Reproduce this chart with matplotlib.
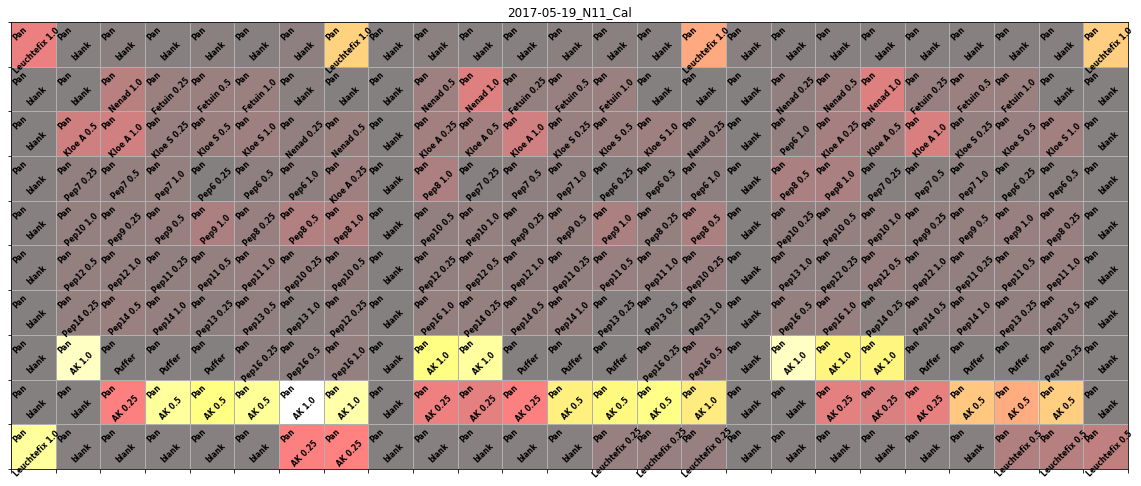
import numpy as np
import matplotlib
matplotlib.use("Agg")
import matplotlib.pyplot as plt

title = "2017-05-19_N11_Cal"

# plate layout: what was pipetted in each well (Pan + sample)
samples = [
    ["Leuchtefix 1.0", "blank", "blank", "blank", "blank", "blank", "blank", "Leuchtefix 1.0", "blank", "blank",
     "blank", "blank", "blank", "blank", "blank", "Leuchtefix 1.0", "blank", "blank", "blank", "blank",
     "blank", "blank", "blank", "blank", "Leuchtefix 1.0"],
    ["blank", "blank", "Nenad 1.0", "Fetuin 0.25", "Fetuin 0.5", "Fetuin 1.0", "blank", "blank", "blank", "Nenad 0.5",
     "Nenad 1.0", "Fetuin 0.25", "Fetuin 0.5", "Fetuin 1.0", "blank", "blank", "blank", "Nenad 0.25", "Nenad 0.5", "Nenad 1.0",
     "Fetuin 0.25", "Fetuin 0.5", "Fetuin 1.0", "blank", "blank"],
    ["blank", "Kloe A 0.5", "Kloe A 1.0", "Kloe S 0.25", "Kloe S 0.5", "Kloe S 1.0", "Nenad 0.25", "Nenad 0.5", "blank", "Kloe A 0.25",
     "Kloe A 0.5", "Kloe A 1.0", "Kloe S 0.25", "Kloe S 0.5", "Kloe S 1.0", "Nenad 0.25", "blank", "Pep6 1.0", "Kloe A 0.25", "Kloe A 0.5",
     "Kloe A 1.0", "Kloe S 0.25", "Kloe S 0.5", "Kloe S 1.0", "blank"],
    ["blank", "Pep7 0.25", "Pep7 0.5", "Pep7 1.0", "Pep6 0.25", "Pep6 0.5", "Pep6 1.0", "Kloe A 0.25", "blank", "Pep8 1.0",
     "Pep7 0.25", "Pep7 0.5", "Pep7 1.0", "Pep6 0.25", "Pep6 0.5", "Pep6 1.0", "blank", "Pep8 0.5", "Pep8 1.0", "Pep7 0.25",
     "Pep7 0.5", "Pep7 1.0", "Pep6 0.25", "Pep6 0.5", "blank"],
    ["blank", "Pep10 1.0", "Pep9 0.25", "Pep9 0.5", "Pep9 1.0", "Pep8 0.25", "Pep8 0.5", "Pep8 1.0", "blank", "Pep10 0.5",
     "Pep10 1.0", "Pep9 0.25", "Pep9 0.5", "Pep9 1.0", "Pep8 0.25", "Pep8 0.5", "blank", "Pep10 0.25", "Pep10 0.5", "Pep10 1.0",
     "Pep9 0.25", "Pep9 0.5", "Pep9 1.0", "Pep8 0.25", "blank"],
    ["blank", "Pep12 0.5", "Pep12 1.0", "Pep11 0.25", "Pep11 0.5", "Pep11 1.0", "Pep10 0.25", "Pep10 0.5", "blank", "Pep12 0.25",
     "Pep12 0.5", "Pep12 1.0", "Pep11 0.25", "Pep11 0.5", "Pep11 1.0", "Pep10 0.25", "blank", "Pep13 1.0", "Pep12 0.25", "Pep12 0.5",
     "Pep12 1.0", "Pep11 0.25", "Pep11 0.5", "Pep11 1.0", "blank"],
    ["blank", "Pep14 0.25", "Pep14 0.5", "Pep14 1.0", "Pep13 0.25", "Pep13 0.5", "Pep13 1.0", "Pep12 0.25", "blank", "Pep16 1.0",
     "Pep14 0.25", "Pep14 0.5", "Pep14 1.0", "Pep13 0.25", "Pep13 0.5", "Pep13 1.0", "blank", "Pep16 0.5", "Pep16 1.0", "Pep14 0.25",
     "Pep14 0.5", "Pep14 1.0", "Pep13 0.25", "Pep13 0.5", "blank"],
    ["blank", "AK 1.0", "Puffer", "Puffer", "Puffer", "Pep16 0.25", "Pep16 0.5", "Pep16 1.0", "blank", "AK 1.0",
     "AK 1.0", "Puffer", "Puffer", "Puffer", "Pep16 0.25", "Pep16 0.5", "blank", "AK 1.0", "AK 1.0", "AK 1.0",
     "Puffer", "Puffer", "Puffer", "Pep16 0.25", "blank"],
    ["blank", "blank", "AK 0.25", "AK 0.5", "AK 0.5", "AK 0.5", "AK 1.0", "AK 1.0", "blank", "AK 0.25",
     "AK 0.25", "AK 0.25", "AK 0.5", "AK 0.5", "AK 0.5", "AK 1.0", "blank", "blank", "AK 0.25", "AK 0.25",
     "AK 0.25", "AK 0.5", "AK 0.5", "AK 0.5", "blank"],
    ["Leuchtefix 1.0", "blank", "blank", "blank", "blank", "blank", "AK 0.25", "AK 0.25", "blank", "blank",
     "blank", "blank", "blank", "Leuchtefix 0.25", "Leuchtefix 0.25", "Leuchtefix 0.25", "blank", "blank", "blank", "blank",
     "blank", "blank", "Leuchtefix 0.5", "Leuchtefix 0.5", "Leuchtefix 0.5"],
]
buffer_name = "Pan"

# relative signal per well
signal = [
    [0.31, 0.01, 0.02, 0.01, 0.02, 0.01, 0.03, 0.61, 0.01, 0.02, 0.01, 0.01, 0.02, 0.02, 0.01, 0.49, 0.02, 0.01, 0.01, 0.01, 0.01, 0.01, 0.01, 0.01, 0.60],
    [0.00, 0.00, 0.16, 0.07, 0.07, 0.07, 0.02, 0.00, 0.00, 0.08, 0.27, 0.05, 0.06, 0.07, 0.00, 0.00, 0.00, 0.04, 0.08, 0.27, 0.06, 0.07, 0.07, 0.00, 0.00],
    [0.00, 0.22, 0.23, 0.06, 0.07, 0.08, 0.04, 0.07, 0.00, 0.09, 0.09, 0.23, 0.06, 0.07, 0.08, 0.05, 0.00, 0.04, 0.10, 0.09, 0.25, 0.05, 0.06, 0.09, 0.00],
    [0.01, 0.04, 0.05, 0.05, 0.00, 0.03, 0.03, 0.08, 0.00, 0.12, 0.01, 0.03, 0.03, 0.01, 0.02, 0.03, 0.00, 0.11, 0.11, 0.01, 0.02, 0.03, 0.02, 0.02, 0.00],
    [0.01, 0.05, 0.05, 0.06, 0.12, 0.06, 0.14, 0.13, 0.00, 0.04, 0.05, 0.04, 0.05, 0.11, 0.05, 0.11, 0.00, 0.04, 0.05, 0.05, 0.04, 0.05, 0.06, 0.06, 0.00],
    [0.01, 0.05, 0.05, 0.04, 0.05, 0.06, 0.05, 0.05, 0.00, 0.04, 0.05, 0.04, 0.04, 0.06, 0.05, 0.06, 0.00, 0.03, 0.03, 0.06, 0.04, 0.04, 0.05, 0.06, 0.00],
    [0.00, 0.05, 0.07, 0.05, 0.03, 0.04, 0.02, 0.04, 0.00, 0.05, 0.05, 0.05, 0.05, 0.01, 0.01, 0.02, 0.00, 0.05, 0.06, 0.02, 0.03, 0.04, 0.04, 0.04, 0.00],
    [0.00, 0.88, 0.00, 0.01, 0.00, 0.03, 0.03, 0.05, 0.00, 0.75, 0.81, 0.00, 0.00, 0.00, 0.02, 0.06, 0.00, 0.88, 0.72, 0.72, 0.00, 0.00, 0.00, 0.02, 0.00],
    [0.00, 0.00, 0.36, 0.80, 0.75, 0.79, 1.00, 0.83, 0.00, 0.32, 0.29, 0.36, 0.70, 0.73, 0.76, 0.69, 0.00, 0.00, 0.29, 0.26, 0.30, 0.58, 0.50, 0.60, 0.00],
    [0.80, 0.01, 0.01, 0.01, 0.01, 0.01, 0.36, 0.37, 0.00, 0.01, 0.01, 0.01, 0.01, 0.06, 0.06, 0.06, 0.00, 0.01, 0.01, 0.01, 0.01, 0.01, 0.13, 0.15, 0.18],
]

data = np.array(signal)
n_rows, n_cols = data.shape

fig = plt.figure(figsize=(1141 / 72, 486 / 72), dpi=72)
ax = fig.add_axes([11 / 1141, 17 / 486, 1117 / 1141, 447 / 486])

# heatmap of the plate
ax.imshow(data, cmap="hot", vmin=0, vmax=1, alpha=0.5, interpolation="nearest", aspect="auto")

# well contents written into every cell
for i in range(n_rows):
    for j in range(n_cols):
        ax.text(j - 0.3, i - 0.24, buffer_name, rotation=45, ha="center", va="center",
                fontsize=7.5, fontweight="bold")
        ax.text(j + 0.08, i + 0.15, samples[i][j], rotation=45, ha="center", va="center",
                fontsize=7.5, fontweight="bold")

# grid on the well borders
ax.set_xticks(np.arange(-0.5, n_cols, 1))
ax.set_yticks(np.arange(-0.5, n_rows, 1))
ax.set_xticklabels([])
ax.set_yticklabels([])
ax.set_xlim(-0.5, n_cols - 0.5)
ax.set_ylim(n_rows - 0.5, -0.5)
ax.grid(True, color="#b0b0b0", linewidth=1)
ax.set_title(title, fontsize=12)

fig.savefig("out.png", dpi=72)
